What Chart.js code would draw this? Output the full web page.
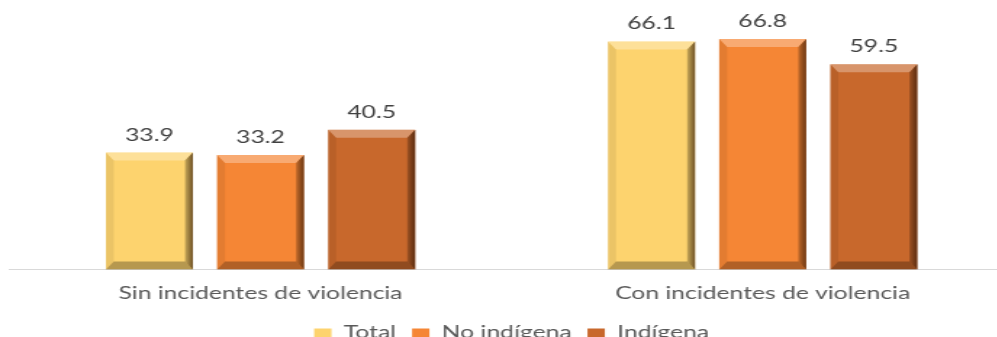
<!DOCTYPE html>
<html>
<head>
<meta charset="utf-8">
<script src="https://cdn.jsdelivr.net/npm/chart.js@4.4.1/dist/chart.umd.min.js"></script>
<style>
  html, body { margin: 0; padding: 0; background: #fff; overflow: hidden; }
  #wrap { position: absolute; left: 0; top: 0; width: 1021px; height: 337px; }
</style>
</head>
<body>
<div id="wrap">
  <!-- drawn narrow and stretched wide, like the source picture -->
  <canvas id="chart" width="704" height="337" style="width:1021px;height:337px"></canvas>
</div>
<script>
// chart data
const categories = ["Sin incidentes de violencia", "Con incidentes de violencia"];
const seriesNames = ["Total", "No indígena", "Indígena"];
const totalValues = [33.9, 66.1];
const noIndigenaValues = [33.2, 66.8];
const indigenaValues = [40.5, 59.5];

const colors = ["#FDD36E", "#F58635", "#C8682C"];

// bevel look on each bar
const bevelPlugin = {
  id: "bevel",
  afterDatasetsDraw(chart) {
    const ctx = chart.ctx;
    chart.data.datasets.forEach((ds, i) => {
      chart.getDatasetMeta(i).data.forEach(bar => {
        const p = bar.getProps(["x", "y", "base", "width"], true);
        const l = p.x - p.width / 2, r = p.x + p.width / 2;
        const t = p.y, b = p.base;
        const bx = 5.5, by = 8;
        ctx.save();
        // top
        ctx.fillStyle = "rgba(255,255,255,0.3)";
        ctx.beginPath();
        ctx.moveTo(l, t); ctx.lineTo(r, t); ctx.lineTo(r - bx, t + by); ctx.lineTo(l + bx, t + by);
        ctx.fill();
        // left
        ctx.fillStyle = "rgba(0,0,0,0.07)";
        ctx.beginPath();
        ctx.moveTo(l, t); ctx.lineTo(l + bx, t + by); ctx.lineTo(l + bx, b - by); ctx.lineTo(l, b);
        ctx.fill();
        // right
        const g = ctx.createLinearGradient(r - bx, 0, r, 0);
        g.addColorStop(0, "rgba(0,0,0,0.2)");
        g.addColorStop(1, "rgba(40,15,0,0.65)");
        ctx.fillStyle = g;
        ctx.beginPath();
        ctx.moveTo(r, t); ctx.lineTo(r, b); ctx.lineTo(r - bx, b - by); ctx.lineTo(r - bx, t + by);
        ctx.fill();
        // bottom
        ctx.fillStyle = "rgba(0,0,0,0.28)";
        ctx.beginPath();
        ctx.moveTo(l, b); ctx.lineTo(r, b); ctx.lineTo(r - bx, b - by); ctx.lineTo(l + bx, b - by);
        ctx.fill();
        ctx.restore();
      });
    });
  }
};

// value labels above bars
const valueLabels = {
  id: "valueLabels",
  afterDatasetsDraw(chart) {
    const ctx = chart.ctx;
    ctx.save();
    ctx.font = "17px Lato";
    ctx.fillStyle = "#404040";
    ctx.textAlign = "center";
    ctx.textBaseline = "middle";
    chart.data.datasets.forEach((ds, i) => {
      chart.getDatasetMeta(i).data.forEach((bar, j) => {
        ctx.fillText(ds.data[j].toFixed(1), bar.x, bar.y - 17.5);
      });
    });
    ctx.restore();
  }
};

new Chart(document.getElementById("chart"), {
  type: "bar",
  data: {
    labels: categories,
    datasets: [
      { label: seriesNames[0], data: totalValues, backgroundColor: colors[0] },
      { label: seriesNames[1], data: noIndigenaValues, backgroundColor: colors[1] },
      { label: seriesNames[2], data: indigenaValues, backgroundColor: colors[2] }
    ]
  },
  options: {
    responsive: false,
    devicePixelRatio: 1,
    animation: false,
    datasets: {
      bar: { categoryPercentage: 0.664, barPercentage: 0.783 }
    },
    layout: { padding: { left: 6.5, right: 5, top: 28, bottom: -14.5 } },
    scales: {
      x: {
        grid: { display: false, drawTicks: false },
        border: { display: true, color: "#d9d9d9", width: 1 },
        ticks: { padding: 14, color: "#595959", font: { family: "Lato", size: 17 } },
        afterFit(scale) { scale.height -= 4.5; }
      },
      y: { display: false, min: 0, max: 70 }
    },
    plugins: {
      legend: {
        position: "bottom",
        labels: {
          boxWidth: 12,
          boxHeight: 9,
          padding: 11,
          color: "#595959",
          font: { family: "Lato", size: 17 }
        }
      },
      tooltip: { enabled: false }
    }
  },
  plugins: [bevelPlugin, valueLabels]
});
</script>
</body>
</html>
